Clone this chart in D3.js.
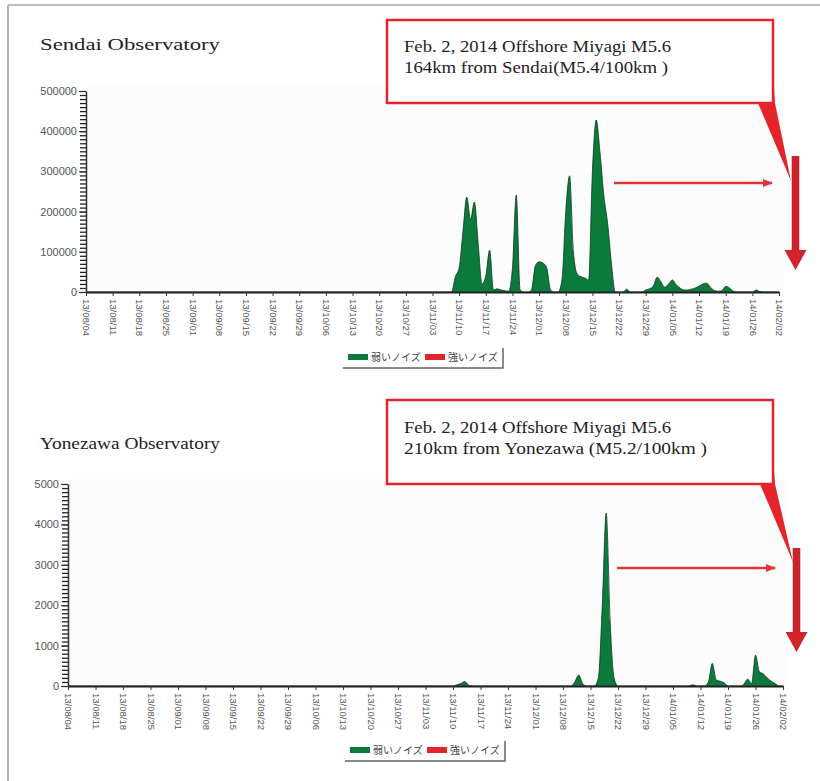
<!DOCTYPE html>
<html><head><meta charset="utf-8">
<script src="https://cdn.jsdelivr.net/npm/d3@7"></script>
<style>
html,body{margin:0;padding:0;background:#fff;}
svg{display:block;}
</style></head>
<body>
<svg id="chart" width="820" height="781"></svg>
<script>
// ---------- DATA ----------
const tickLabels = ["13/08/04","13/08/11","13/08/18","13/08/25","13/09/01","13/09/08","13/09/15","13/09/22","13/09/29","13/10/06","13/10/13","13/10/20","13/10/27","13/11/03","13/11/10","13/11/17","13/11/24","13/12/01","13/12/08","13/12/15","13/12/22","13/12/29","14/01/05","14/01/12","14/01/19","14/01/26","14/02/02"];
const tickDates = ["2013-08-04","2013-08-11","2013-08-18","2013-08-25","2013-09-01","2013-09-08","2013-09-15","2013-09-22","2013-09-29","2013-10-06","2013-10-13","2013-10-20","2013-10-27","2013-11-03","2013-11-10","2013-11-17","2013-11-24","2013-12-01","2013-12-08","2013-12-15","2013-12-22","2013-12-29","2014-01-05","2014-01-12","2014-01-19","2014-01-26","2014-02-02"];

const sendaiDates = ["2013-08-04","2013-11-08","2013-11-09","2013-11-10","2013-11-11","2013-11-12","2013-11-13","2013-11-14","2013-11-15","2013-11-16","2013-11-17","2013-11-18","2013-11-19","2013-11-20","2013-11-21","2013-11-22","2013-11-23","2013-11-24","2013-11-25","2013-11-26","2013-11-27","2013-11-28","2013-11-29","2013-11-30","2013-12-01","2013-12-02","2013-12-03","2013-12-04","2013-12-05","2013-12-06","2013-12-07","2013-12-08","2013-12-09","2013-12-10","2013-12-11","2013-12-12","2013-12-13","2013-12-14","2013-12-15","2013-12-16","2013-12-17","2013-12-18","2013-12-19","2013-12-20","2013-12-21","2013-12-23","2013-12-24","2013-12-25","2013-12-28","2013-12-29","2013-12-30","2013-12-31","2014-01-01","2014-01-02","2014-01-03","2014-01-04","2014-01-05","2014-01-06","2014-01-07","2014-01-08","2014-01-09","2014-01-10","2014-01-11","2014-01-12","2014-01-13","2014-01-14","2014-01-15","2014-01-16","2014-01-17","2014-01-18","2014-01-19","2014-01-20","2014-01-21","2014-01-22","2014-01-26","2014-01-27","2014-01-28","2014-01-29","2014-02-02"];
const sendaiWeak = [0,0,38000,60000,150000,236000,180000,224000,120000,20000,40000,104000,5000,8000,5000,3000,2000,60000,241000,5000,0,0,5000,65000,75000,72000,60000,5000,0,0,30000,200000,289000,100000,45000,38000,35000,30000,300000,428000,346000,240000,170000,70000,0,0,7000,0,0,5000,8000,15000,37000,25000,12000,20000,30000,18000,10000,5000,5000,7000,10000,15000,20000,22000,12000,4000,2000,3000,14000,10000,2000,0,0,5000,1000,0,0];

const yonezawaDates = ["2013-08-04","2013-11-10","2013-11-11","2013-11-12","2013-11-13","2013-11-14","2013-11-15","2013-12-10","2013-12-11","2013-12-12","2013-12-13","2013-12-14","2013-12-16","2013-12-17","2013-12-18","2013-12-19","2013-12-20","2013-12-21","2013-12-22","2014-01-09","2014-01-10","2014-01-11","2014-01-13","2014-01-14","2014-01-15","2014-01-16","2014-01-17","2014-01-18","2014-01-19","2014-01-22","2014-01-23","2014-01-24","2014-01-25","2014-01-26","2014-01-27","2014-01-28","2014-01-29","2014-01-30","2014-01-31","2014-02-01","2014-02-02"];
const yonezawaWeak = [0,0,30,60,110,20,0,0,100,270,60,0,0,200,2000,4280,1600,200,0,0,30,0,0,100,560,150,120,80,0,0,40,170,60,760,350,300,200,120,60,0,0];

const legendLabels = ["弱いノイズ","強いノイズ"];
const legendColors = ["#0b7a3b","#e3242b"];

const panels = [
  {title:"Sendai Observatory", dates:sendaiDates, values:sendaiWeak, yMax:500000, yMajor:100000, yMinor:10000,
   note:["Feb. 2, 2014 Offshore Miyagi M5.6","164km from Sendai(M5.4/100km )"]},
  {title:"Yonezawa Observatory", dates:yonezawaDates, values:yonezawaWeak, yMax:5000, yMajor:1000, yMinor:100,
   note:["Feb. 2, 2014 Offshore Miyagi M5.6","210km from Yonezawa (M5.2/100km )"]}
];

// ---------- LAYOUT ----------
const layouts = [
  {x0:86, x1:779, yTop:91, yBot:292, titleY:50, box:[387,20,386,83], textY:[52,73],
   tail:[[758,103],[774,90],[775,103],[791,181]], bigArrow:{x:795.5,y0:156,y1:270}, hArrow:{x0:614,x1:772,y:183},
   legend:{x:343,y:348,w:160,h:20}},
  {x0:68, x1:783, yTop:484, yBot:686, titleY:449, box:[387,400,386,84], textY:[433,454],
   tail:[[760,484],[774,470],[775,484],[793,562]], bigArrow:{x:796.5,y0:548,y1:652}, hArrow:{x0:617,x1:775,y:568},
   legend:{x:345,y:741,w:160,h:20}}
];

const svg = d3.select("#chart");
const parse = d3.utcParse("%Y-%m-%d");

// frame
svg.append("line").attr("x1",8).attr("x2",820).attr("y1",5).attr("y2",5).attr("stroke","#a8a8a8").attr("stroke-width",1.5);
svg.append("line").attr("x1",8).attr("x2",8).attr("y1",5).attr("y2",781).attr("stroke","#b0b0b0").attr("stroke-width",2);

const defs = svg.append("defs");
defs.append("marker").attr("id","ah").attr("viewBox","0 0 10 10").attr("refX",9).attr("refY",5)
  .attr("markerWidth",4).attr("markerHeight",4).attr("orient","auto").attr("markerUnits","strokeWidth")
  .append("path").attr("d","M0,1 L10,5 L0,9 Z").attr("fill","#e0353a");

panels.forEach((p,i)=>{
  const L = layouts[i];
  const g = svg.append("g");
  const x = d3.scaleUtc().domain([parse(tickDates[0]), parse(tickDates[tickDates.length-1])]).range([L.x0, L.x1]);
  const y = d3.scaleLinear().domain([0,p.yMax]).range([L.yBot, L.yTop]);

  // faint plot bg
  g.append("rect").attr("x",L.x0).attr("y",L.yTop-5).attr("width",L.x1-L.x0+4).attr("height",L.yBot-L.yTop+5).attr("fill","#fcfcfc");

  // title
  g.append("text").attr("x",40).attr("y",L.titleY).text(p.title)
    .attr("font-family","Liberation Serif, 'DejaVu Serif', serif").attr("font-size",16).attr("fill","#222")
    .attr("textLength",180).attr("lengthAdjust","spacingAndGlyphs");

  // area
  const pts = p.dates.map((d,k)=>({d:parse(d), v:p.values[k]}));
  const area = d3.area().curve(d3.curveMonotoneX).x(d=>x(d.d)).y0(y(0)).y1(d=>y(d.v));
  const line = d3.line().curve(d3.curveMonotoneX).x(d=>x(d.d)).y(d=>y(d.v));
  g.append("path").datum(pts).attr("d",area).attr("fill",legendColors[0]);
  g.append("path").datum(pts).attr("d",line).attr("fill","none").attr("stroke","#0a3a1c").attr("stroke-width",0.8);

  // y axis minor ticks
  const minor = d3.range(0, p.yMax + p.yMinor/2, p.yMinor);
  const yMinorAx = g.append("g").attr("transform",`translate(${L.x0},0)`)
    .call(d3.axisLeft(y).tickValues(minor).tickSize(6).tickFormat(()=>""));
  yMinorAx.select(".domain").remove();
  yMinorAx.selectAll("line").attr("stroke","#222").attr("stroke-width",1.3);
  const major = d3.range(0, p.yMax + p.yMajor/2, p.yMajor);
  const yAx = g.append("g").attr("transform",`translate(${L.x0},0)`)
    .call(d3.axisLeft(y).tickValues(major).tickSize(7).tickSizeOuter(0).tickPadding(2).tickFormat(d3.format("d")));
  yAx.select(".domain").attr("stroke","#333").attr("stroke-width",1.5);
  yAx.selectAll("line").attr("stroke","#333").attr("stroke-width",1);
  yAx.selectAll("text").attr("font-family","Liberation Sans, Arial, sans-serif").attr("font-size",11).attr("fill","#555");

  // x axis
  const xAx = g.append("g").attr("transform",`translate(0,${L.yBot})`)
    .call(d3.axisBottom(x).tickValues(tickDates.map(parse)).tickFormat((d,k)=>tickLabels[k]).tickSize(4).tickSizeOuter(0));
  xAx.select(".domain").attr("stroke","#222").attr("stroke-width",2);
  xAx.selectAll("line").attr("stroke","#333");
  xAx.selectAll("text").attr("font-family","Liberation Sans, Arial, sans-serif").attr("font-size",9.5).attr("fill","#555")
    .attr("transform","rotate(90)").attr("text-anchor","start").attr("dy","0.35em").attr("x",7).attr("y",0);

  // legend
  const lg = g.append("g").attr("transform",`translate(${L.legend.x},${L.legend.y})`);
  lg.append("path").attr("d",`M0,${L.legend.h} H${L.legend.w} V0`).attr("fill","none").attr("stroke","#666").attr("stroke-width",1.5);
  const itemX = [5, 82];
  legendLabels.forEach((lab,k)=>{
    lg.append("rect").attr("x",itemX[k]).attr("y",6).attr("width",20).attr("height",6).attr("fill",legendColors[k]);
    lg.append("text").attr("x",itemX[k]+23).attr("y",9).attr("dy","0.35em").text(lab)
      .attr("font-family","'Noto Sans CJK JP', sans-serif").attr("font-size",10).attr("fill","#444");
  });

  // annotation box
  const [bx,by,bw,bh] = L.box;
  g.append("polygon").attr("points",L.tail.map(q=>q.join(",")).join(" ")).attr("fill","#e3242b");
  g.append("rect").attr("x",bx).attr("y",by).attr("width",bw).attr("height",bh).attr("fill","#fff")
    .attr("stroke","#e3242b").attr("stroke-width",2.5);
  p.note.forEach((t,k)=>{
    g.append("text").attr("x",bx+17).attr("y",L.textY[k]).text(t)
      .attr("font-family","Liberation Serif, 'DejaVu Serif', serif").attr("font-size",16).attr("fill","#222")
      .attr("textLength", k===0?267:(i===0?264:303)).attr("lengthAdjust","spacingAndGlyphs");
  });

  // horizontal thin arrow
  g.append("line").attr("x1",L.hArrow.x0).attr("x2",L.hArrow.x1).attr("y1",L.hArrow.y).attr("y2",L.hArrow.y)
    .attr("stroke","#e0353a").attr("stroke-width",2.5).attr("marker-end","url(#ah)");

  // big down arrow
  const A = L.bigArrow;
  g.append("rect").attr("x",A.x-3.8).attr("y",A.y0).attr("width",7.6).attr("height",A.y1-A.y0-18).attr("fill","#c9242b");
  g.append("polygon").attr("points",`${A.x-11},${A.y1-20} ${A.x+11},${A.y1-20} ${A.x},${A.y1}`).attr("fill","#d2232a");
});
</script>
</body></html>
